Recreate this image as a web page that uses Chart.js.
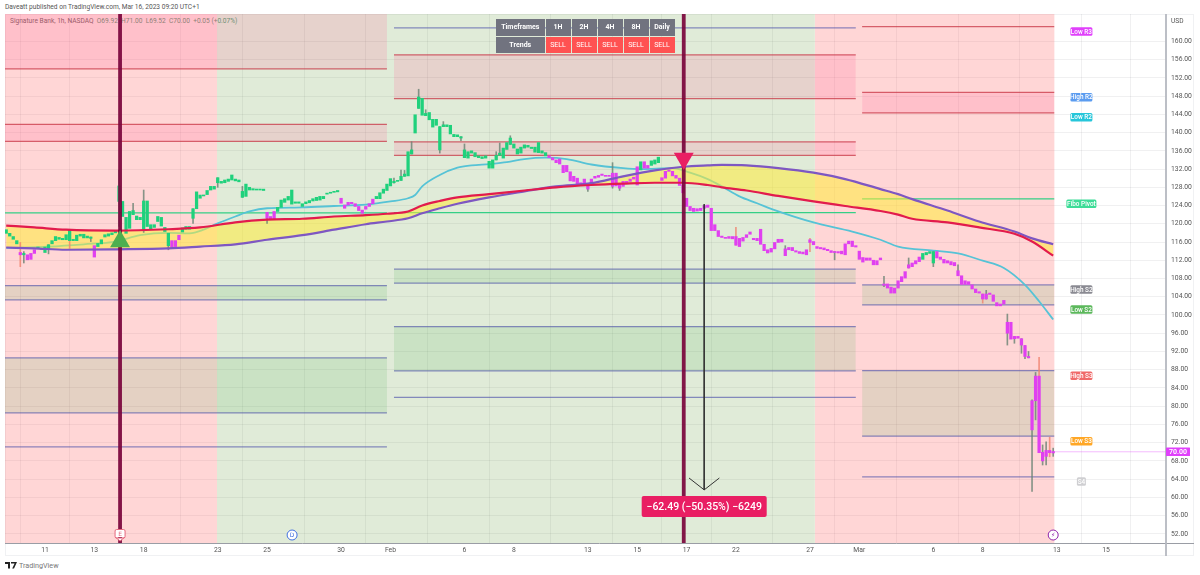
<!DOCTYPE html>
<html>
<head>
<meta charset="utf-8">
<title>Signature Bank, 1h</title>
<script src="https://cdn.jsdelivr.net/npm/chart.js@4/dist/chart.umd.min.js"></script>
<style>
  html, body { margin: 0; padding: 0; background: #fff; width: 1200px; height: 575px; overflow: hidden; font-family: Roboto, sans-serif; }
  #chart { position: absolute; left: 0; top: 0; z-index: 2; }
  #panel { position: absolute; left: 5px; top: 14px; width: 1189px; height: 542px; box-sizing: border-box; border: 1px solid #f0f1f3; z-index: 0; }
  #header { position: absolute; left: 5px; top: 3px; font-size: 6.6px; line-height: 8px; color: #555; }
  #legend { position: absolute; left: 10px; top: 17px; font-size: 6.6px; line-height: 8px; color: #5f6368; z-index: 1; white-space: pre; }
  #legend b { font-weight: 400; color: #4d9c7c; }
  #usd { position: absolute; left: 1171px; top: 17px; font-size: 6.6px; line-height: 8px; color: #555; z-index: 3; }
  #trends { position: absolute; left: 495px; top: 18px; border-collapse: separate; border-spacing: 1.3px; z-index: 3; font-size: 7px; color: #fff; table-layout: fixed; }
  #trends td { height: 16.5px; padding: 0; text-align: center; background: #71737f; width: 25px; font-weight: 700; }
  #trends td.name { width: 48.5px; }
  #trends td.sell { background: #ff5252; font-weight: 400; }
  #brand { position: absolute; left: 5px; top: 562px; font-size: 7.2px; line-height: 8px; color: #777; }
  #brand svg { vertical-align: -1px; margin-right: 2px; }
</style>
</head>
<body>
<div id="header">Daveatt published on TradingView.com, Mar 16, 2023 09:20 UTC+1</div>
<div id="panel"></div>
<div id="legend">Signature Bank, 1h, NASDAQ  <b>O69.92  H71.00  L69.52  C70.00  +0.05 (+0.07%)</b></div>
<canvas id="chart" width="1200" height="575"></canvas>
<div id="usd">USD</div>
<table id="trends">
  <tr><td class="name">Timeframes</td><td>1H</td><td>2H</td><td>4H</td><td>8H</td><td>Daily</td></tr>
  <tr><td class="name">Trends</td><td class="sell">SELL</td><td class="sell">SELL</td><td class="sell">SELL</td><td class="sell">SELL</td><td class="sell">SELL</td></tr>
</table>
<div id="brand"><svg width="12" height="7" viewBox="0 0 12 7"><path d="M0 0h5v6.5H3V2H0zM6 0h6L9 6.5H7.2L9.6 1.6H6z" fill="#222"/></svg>TradingView</div>

<script>
// axes (x = hourly bar number, 7 bars per trading day)
const xMin = -0.34, xMax = 329.0;
const yMin = 50.0, yMax = 166.0;
const tickBars = [11, 25, 39, 60, 74, 95, 109, 130, 144, 165, 179, 193, 207, 228, 242, 263, 277, 298, 312];
const tickLabels = ['11', '13', '18', '23', '25', '30', 'Feb', '6', '8', '13', '15', '17', '22', '27', 'Mar', '6', '8', '13', '15'];
const priceTicks = [160, 156, 152, 148, 144, 140, 136, 132, 128, 124, 120, 116, 112, 108, 104, 100, 96, 92, 88, 84, 80, 76, 72, 68, 64, 60, 56, 52];

// candle bodies, one value per bar
const bodyTop = [
  118.7, 117.9, 117.2, 116.3, 113.7, 113.5, 113.2, 113.5, 114.3, 114.9,
  114.6, 114.9, 115.4, 116.3, 117.2, 117.0, 116.8, 117.6, 118.7, 116.6,
  117.5, 117.7, 117.7, 117.3, 117.1, 115.2, 115.7, 116.5, 117.6, 117.8,
  118.0, 118.4, 128.3, 124.9, 121.4, 122.7, 122.9, 121.7, 121.4, 125.0,
  125.0, 119.8, 119.8, 121.6, 121.4, 119.2, 117.9, 116.3, 116.3, 117.5,
  119.1, 119.4, 119.4, 123.3, 127.0, 126.3, 126.3, 127.3, 128.2, 128.2,
  130.1, 129.3, 129.6, 129.8, 130.7, 129.8, 129.6, 127.1, 128.7, 128.0,
  127.7, 127.6, 127.6, 127.6, 122.5, 121.6, 122.7, 123.6, 125.2, 125.5,
  126.0, 127.4, 124.8, 124.8, 124.4, 124.8, 125.1, 125.5, 125.8, 126.0,
  126.0, 126.7, 126.9, 127.1, 127.3, 125.6, 124.1, 124.7, 124.7, 124.4,
  123.8, 123.0, 123.8, 124.4, 125.4, 126.0, 126.8, 127.6, 128.7, 129.9,
  129.3, 129.5, 130.4, 130.9, 135.8, 136.2, 143.9, 147.8, 147.5, 144.2,
  144.4, 142.9, 142.9, 141.3, 141.7, 141.7, 141.6, 139.6, 139.5, 139.1,
  136.2, 135.8, 136.0, 135.6, 134.9, 134.7, 134.9, 133.7, 134.0, 135.0,
  135.5, 136.6, 137.8, 138.8, 137.5, 136.4, 136.8, 137.3, 137.2, 136.8,
  136.8, 137.8, 136.0, 135.6, 134.9, 134.5, 134.0, 134.2, 132.8, 132.8,
  131.4, 130.4, 130.0, 129.0, 129.8, 128.5, 129.8, 130.4, 130.6, 130.9,
  130.6, 130.6, 131.1, 131.1, 128.7, 129.3, 129.3, 129.8, 130.2, 132.5,
  133.6, 133.6, 132.8, 133.8, 134.0, 134.6, 130.1, 131.5, 131.8, 131.5,
  130.6, 130.0, 128.5, 125.6, 123.8, 123.4, 123.3, 123.4, 124.0, 124.1,
  123.4, 119.8, 118.5, 117.3, 117.0, 117.2, 117.2, 117.2, 116.8, 117.0,
  117.6, 118.2, 116.8, 116.8, 118.8, 115.5, 114.3, 114.6, 115.9, 116.6,
  116.6, 114.5, 114.8, 114.8, 114.1, 113.9, 113.8, 114.3, 116.5, 116.1,
  115.0, 114.8, 114.7, 114.4, 114.1, 113.9, 113.9, 114.0, 115.6, 116.2,
  116.2, 115.2, 114.0, 112.6, 112.5, 112.5, 112.0, 111.9, 112.5, 106.8,
  106.8, 106.1, 105.9, 107.5, 108.4, 109.5, 111.0, 111.4, 111.9, 112.7,
  113.5, 113.7, 113.9, 113.9, 113.9, 112.7, 112.2, 111.9, 111.7, 111.5,
  109.7, 108.6, 107.5, 107.3, 106.6, 105.7, 105.1, 104.6, 104.6, 104.8,
  104.4, 102.7, 102.4, 103.2, 98.4, 98.4, 95.3, 95.3, 94.8, 93.3,
  90.9, 81.2, 86.6, 86.6, 69.9, 70.3, 70.3, 70.05
];
const bodyBottom = [
  117.9, 117.3, 116.6, 115.6, 113.2, 113.2, 112.1, 112.2, 113.5, 114.6,
  114.4, 113.7, 114.6, 115.6, 116.3, 116.6, 116.5, 116.5, 116.3, 116.3,
  116.3, 117.3, 116.9, 116.9, 116.8, 112.7, 115.0, 115.6, 117.1, 117.3,
  117.6, 118.0, 124.9, 121.6, 117.9, 119.0, 122.0, 120.9, 120.9, 118.7,
  119.4, 118.8, 119.2, 120.5, 119.5, 118.3, 115.2, 114.9, 115.0, 116.5,
  118.2, 118.8, 118.8, 121.2, 123.3, 125.6, 126.1, 126.4, 127.4, 127.6,
  129.0, 128.9, 129.0, 129.3, 129.6, 129.4, 129.2, 125.8, 126.0, 127.4,
  127.4, 127.4, 127.4, 127.3, 121.2, 120.9, 121.1, 122.7, 123.6, 124.7,
  125.2, 124.3, 124.5, 124.5, 123.8, 124.4, 124.6, 125.0, 125.1, 125.2,
  125.5, 126.5, 126.7, 126.9, 127.0, 124.5, 123.4, 124.1, 124.4, 123.8,
  122.9, 122.3, 123.2, 123.8, 124.4, 125.5, 125.5, 126.7, 127.3, 128.3,
  129.0, 129.3, 129.5, 130.4, 130.5, 135.3, 139.9, 145.3, 143.8, 143.7,
  142.8, 141.2, 141.6, 136.2, 141.3, 141.3, 139.7, 139.1, 139.1, 138.8,
  134.5, 134.4, 135.5, 134.7, 134.5, 134.3, 134.4, 132.2, 132.2, 134.0,
  135.0, 134.4, 136.3, 137.4, 136.6, 135.3, 135.5, 136.6, 136.8, 136.5,
  135.7, 135.6, 135.5, 134.9, 134.5, 134.0, 133.4, 133.1, 131.2, 131.4,
  129.4, 129.3, 128.7, 128.7, 128.9, 127.6, 128.9, 130.0, 130.2, 130.6,
  130.4, 130.4, 128.2, 128.3, 127.8, 128.2, 128.8, 129.3, 129.8, 128.5,
  131.8, 132.2, 132.2, 132.8, 133.1, 133.4, 129.5, 130.0, 131.5, 130.5,
  130.0, 128.4, 126.8, 123.8, 122.9, 122.7, 122.8, 122.9, 123.4, 123.6,
  118.5, 118.5, 117.2, 117.0, 116.8, 116.8, 116.7, 115.3, 115.0, 116.2,
  117.0, 117.7, 116.5, 116.3, 115.5, 114.1, 113.6, 113.8, 114.5, 115.9,
  116.0, 113.0, 114.3, 114.1, 113.8, 113.5, 113.4, 113.2, 115.9, 115.4,
  114.6, 114.5, 114.3, 114.1, 113.7, 113.7, 113.6, 113.4, 113.2, 115.6,
  115.0, 114.9, 112.2, 111.6, 112.0, 112.0, 111.0, 111.0, 112.1, 106.5,
  105.9, 104.8, 104.8, 105.9, 107.3, 108.1, 110.3, 110.6, 111.2, 111.7,
  112.2, 113.2, 113.5, 111.4, 112.5, 112.2, 111.4, 111.4, 111.0, 110.8,
  108.6, 106.7, 106.7, 106.7, 105.7, 104.9, 104.8, 103.5, 103.5, 104.5,
  103.0, 102.0, 102.0, 102.4, 96.0, 94.7, 94.8, 94.9, 93.4, 90.9,
  90.6, 74.8, 81.2, 69.8, 68.0, 69.0, 69.8, 69.75
];
// [bar, high, low] for the wicks that stick out
const wicks = [
  [4, 115.9, 110.6], [5, 113.9, 111.4], [12, 115.4, 113.4], [18, 118.7, 114.6], [24, 117.1, 116.1],
  [32, 131.8, 119.4], [36, 124.5, 122.0], [39, 127.4, 118.1], [46, 117.9, 114.3], [53, 123.3, 120.1],
  [60, 130.1, 128.0], [67, 128.2, 125.8], [74, 122.5, 120.1], [110, 130.0, 128.9], [112, 131.8, 129.5],
  [113, 131.7, 130.4], [115, 138.0, 135.3], [117, 149.5, 145.3], [119, 145.0, 143.7], [123, 141.3, 135.5],
  [124, 142.4, 141.3], [129, 139.1, 138.2], [130, 137.5, 134.5], [139, 135.8, 134.0], [140, 137.7, 135.0],
  [143, 139.3, 137.4], [165, 128.5, 127.1], [172, 133.4, 127.8], [174, 128.7, 127.3], [207, 119.2, 115.3],
  [221, 115.2, 113.0], [228, 116.8, 113.9], [235, 113.9, 112.1], [249, 108.5, 106.2], [256, 112.5, 110.3],
  [263, 113.9, 110.6], [270, 111.0, 108.6], [277, 104.6, 102.6], [278, 105.4, 103.5], [284, 100.2, 93.4],
  [286, 95.3, 93.8], [288, 94.8, 91.6], [289, 93.3, 90.4], [290, 92.0, 90.6], [291, 81.4, 61.3],
  [292, 87.4, 77.0], [293, 90.7, 69.8], [294, 71.5, 67.1], [295, 72.2, 67.1], [296, 73.2, 68.9], [297, 70.8, 69.0]
];
const paleWicks = [4, 18, 207, 228, 277, 293, 296];
// bars painted as sell, first and last
const sellRanges = [[4, 4], [6, 8], [25, 25], [47, 49], [74, 76], [95, 104], [154, 179], [181, 182], [186, 259], [264, 297]];

// moving averages
const ribbonBars = [0, 8, 17, 31, 46, 55, 65, 74, 84, 93, 102, 108, 114, 118, 123, 128, 137, 147, 156, 166, 175, 184, 192, 199, 203, 210, 219, 229, 238, 248, 253, 257, 267, 276, 286, 291, 297];
const fastAverage = [119.6, 119.2, 118.7, 118.5, 118.8, 119.2, 120.3, 120.9, 121.1, 121.6, 121.9, 122.2, 122.7, 124.0, 125.0, 125.8, 126.5, 127.3, 128.0, 128.5, 128.8, 129.0, 129.0, 128.5, 128.0, 127.3, 126.1, 124.9, 123.9, 122.8, 122.0, 121.1, 120.3, 119.2, 117.8, 116.1, 113.0];
const slowAverage = [114.8, 114.6, 114.3, 114.4, 114.6, 115.0, 115.5, 116.5, 117.5, 118.7, 119.9, 120.5, 121.2, 122.3, 123.4, 124.4, 125.8, 127.1, 128.2, 128.9, 130.4, 131.7, 132.5, 132.8, 132.9, 132.8, 132.2, 131.2, 129.8, 127.6, 126.5, 125.4, 122.9, 120.5, 118.3, 116.8, 115.5];
const cyanBars = [0, 12, 22, 31, 38, 46, 52, 56, 60, 65, 69, 74, 84, 93, 102, 109, 114, 116, 118, 123, 128, 132, 137, 142, 147, 153, 159, 166, 175, 180, 189, 194, 199, 203, 208, 213, 218, 229, 240, 248, 253, 263, 270, 277, 283, 289, 293, 297];
const cyanAverage = [114.7, 115.0, 115.5, 116.1, 117.5, 118.0, 117.9, 118.7, 120.1, 121.6, 122.7, 123.4, 123.6, 123.9, 124.2, 124.9, 125.6, 126.3, 128.2, 130.7, 132.3, 132.8, 133.1, 133.5, 134.2, 134.5, 134.2, 133.0, 132.2, 132.0, 132.2, 131.2, 129.8, 128.2, 126.0, 124.5, 123.0, 120.3, 118.3, 116.5, 115.0, 114.1, 113.5, 111.9, 110.3, 106.6, 103.0, 99.0];

// trend backgrounds: [first bar, last bar]
const sellBackgrounds = [[-0.34, 59.8], [229.4, 297.4]];
const buyBackgrounds = [[59.8, 229.4]];

// pivot periods: [first bar, last bar]
const periodJan = [-0.34, 108];
const periodFeb = [110, 241];
const periodMar = [242.8, 297.3];
// zones: [period, top price, bottom price]
const redZones = [
  [periodJan, 166, 153.97], [periodJan, 141.8, 138.07],
  [periodFeb, 157.04, 147.46], [periodFeb, 137.96, 135.0],
  [periodMar, 148.82, 144.32]
];
const greenZones = [
  [periodJan, 106.45, 103.3], [periodJan, 90.6, 78.53],
  [periodFeb, 110.04, 106.97], [periodFeb, 97.46, 87.74],
  [periodMar, 106.6, 102.2], [periodMar, 87.8, 73.42]
];
// single levels: [period, price]
const redLevels = [[periodJan, 153.97], [periodJan, 141.8], [periodJan, 138.07], [periodFeb, 157.04], [periodFeb, 147.46], [periodFeb, 137.96], [periodFeb, 135.0], [periodMar, 163.25], [periodMar, 148.82], [periodMar, 144.32]];
const blueLevels = [[periodJan, 106.45], [periodJan, 103.3], [periodJan, 90.6], [periodJan, 78.53], [periodJan, 71.07], [periodFeb, 162.96], [periodFeb, 110.04], [periodFeb, 106.97], [periodFeb, 97.46], [periodFeb, 87.74], [periodFeb, 81.93], [periodMar, 106.6], [periodMar, 102.2], [periodMar, 87.8], [periodMar, 73.42], [periodMar, 64.5]];
const pivotLevels = [[periodJan, 122.39], [periodFeb, 122.46], [periodMar, 125.46]];

// pivot name tags on the right
const tagBar = 305;
const tagNames = ['Low R3', 'High R2', 'Low R2', 'Fibo Pivot', 'High S2', 'Low S2', 'High S3', 'Low S3', 'S4'];
const tagPrices = [162.15, 147.76, 143.38, 124.4, 105.6, 101.2, 86.7, 72.3, 63.5];
const tagColors = ['#e040fb', '#5b9cf0', '#26c6da', '#3ddc97', '#8a8a92', '#5cb85c', '#f06a6a', '#ffa726', '#cfcfd2'];

// signals
const signalBars = [32.3, 192.2];
const buySignalPrice = 116.14;
const sellSignalPrice = 134.34;

// measured move
const moveBar = 198;
const moveFrom = 124.3;
const moveTo = 61.65;
const moveLabel = '\u221262.49 (\u221250.35%) \u22126249';
const moveLabelPrice = 58;

// events on the bottom of the chart
const eventBars = [32.3, 81.1, 297];
const eventPrice = 51.75;
const lastPrice = 70;

const sellColor = '#e040f0';
const buyColor = '#1fd17c';

function isSell(bar) {
  return sellRanges.some(function(r) { return bar >= r[0] && bar <= r[1]; });
}

function segment(from, to, price) {
  return [{x: from, y: price}, {x: to, y: price}];
}

function lineSet(data, color, width, order, extra) {
  return Object.assign({
    type: 'line', data: data, borderColor: color, borderWidth: width,
    pointRadius: 0, fill: false, order: order
  }, extra || {});
}

const datasets = [];

sellBackgrounds.forEach(function(b) {
  datasets.push(lineSet(segment(b[0], b[1], yMax), 'transparent', 0, 30, {fill: {value: yMin}, backgroundColor: 'rgba(255,82,82,0.24)'}));
});
buyBackgrounds.forEach(function(b) {
  datasets.push(lineSet(segment(b[0], b[1], yMax), 'transparent', 0, 30, {fill: {value: yMin}, backgroundColor: 'rgba(90,150,50,0.19)'}));
});
redZones.forEach(function(z) {
  datasets.push(lineSet(segment(z[0][0], z[0][1], z[1]), 'transparent', 0, 25, {fill: {value: z[2]}, backgroundColor: 'rgba(255,82,140,0.17)'}));
});
greenZones.forEach(function(z) {
  datasets.push(lineSet(segment(z[0][0], z[0][1], z[1]), 'transparent', 0, 25, {fill: {value: z[2]}, backgroundColor: 'rgba(76,175,80,0.15)'}));
});
redLevels.forEach(function(l) {
  datasets.push(lineSet(segment(l[0][0], l[0][1], l[1]), 'rgba(200,55,70,0.75)', 1.2, 20));
});
blueLevels.forEach(function(l) {
  datasets.push(lineSet(segment(l[0][0], l[0][1], l[1]), 'rgba(80,85,170,0.65)', 1.2, 20));
});
pivotLevels.forEach(function(l) {
  datasets.push(lineSet(segment(l[0][0], l[0][1], l[1]), '#35cf86', 1.2, 20));
});

// cyan sits under the ribbon, like in the original
datasets.push(lineSet(cyanBars.map(function(b, i) { return {x: b, y: cyanAverage[i]}; }), '#56c3d6', 1.8, 12, {cubicInterpolationMode: 'monotone'}));

const fastPts = ribbonBars.map(function(b, i) { return {x: b, y: fastAverage[i]}; });
const slowPts = ribbonBars.map(function(b, i) { return {x: b, y: slowAverage[i]}; });
// ribbon fill is its own pair so the candles can go over it
datasets.push(lineSet(fastPts, 'transparent', 0, 10, {fill: '+1', backgroundColor: 'rgba(255,235,59,0.55)', cubicInterpolationMode: 'monotone'}));
datasets.push(lineSet(slowPts, 'transparent', 0, 10, {cubicInterpolationMode: 'monotone'}));

datasets.push({
  type: 'bar', order: 8, grouped: false, barThickness: 1,
  data: wicks.map(function(w) { return {x: w[0], y: [w[2], w[1]]}; }),
  backgroundColor: wicks.map(function(w) {
    return paleWicks.indexOf(w[0]) >= 0 ? 'rgba(240,130,110,0.8)' : 'rgba(105,130,115,0.8)';
  })
});
datasets.push({
  type: 'bar', order: 7, grouped: false, barThickness: 2.6, minBarLength: 1,
  data: bodyTop.map(function(t, i) { return {x: i, y: [bodyBottom[i], t]}; }),
  backgroundColor: bodyTop.map(function(t, i) { return isSell(i) ? sellColor : buyColor; })
});

datasets.push(lineSet(fastPts, '#e21b4d', 2.2, 5, {cubicInterpolationMode: 'monotone'}));
datasets.push(lineSet(slowPts, '#7e57c2', 2.2, 5, {cubicInterpolationMode: 'monotone'}));

datasets.push(lineSet(segment(297, xMax, lastPrice), 'rgba(224,64,251,0.45)', 0.8, 5));

signalBars.forEach(function(b) {
  datasets.push(lineSet([{x: b, y: yMin}, {x: b, y: yMax}], 'rgba(122,4,60,0.92)', 3.8, 3));
});

// arrow shaft and head
datasets.push(lineSet([{x: moveBar, y: moveFrom}, {x: moveBar, y: moveTo}], '#333', 1, 3));
datasets.push(lineSet([{x: moveBar - 4.3, y: moveTo + 2.6}, {x: moveBar, y: moveTo}, {x: moveBar + 4.3, y: moveTo + 2.6}], '#333', 1, 3));

// signal triangles
datasets.push({
  type: 'line', order: 1, showLine: false,
  data: [{x: signalBars[0], y: buySignalPrice}],
  pointStyle: 'triangle', pointRadius: 11.5, pointBackgroundColor: '#4caf50', pointBorderWidth: 0
});
datasets.push({
  type: 'line', order: 1, showLine: false,
  data: [{x: signalBars[1], y: sellSignalPrice}],
  pointStyle: 'triangle', pointRotation: 180, pointRadius: 11.5, pointBackgroundColor: '#e91e63', pointBorderWidth: 0
});

function badge(ctx, cx, cy, w, h, r, color, text, font) {
  ctx.fillStyle = color;
  ctx.beginPath();
  ctx.roundRect(cx - w / 2, cy - h / 2, w, h, r);
  ctx.fill();
  ctx.fillStyle = '#fff';
  ctx.font = font;
  ctx.textAlign = 'center';
  ctx.textBaseline = 'middle';
  ctx.fillText(text, cx, cy + 0.5);
}

function ring(ctx, cx, cy, color, text) {
  ctx.beginPath();
  ctx.arc(cx, cy, 5, 0, Math.PI * 2);
  ctx.fillStyle = '#fff';
  ctx.fill();
  ctx.lineWidth = 1;
  ctx.strokeStyle = color;
  ctx.stroke();
  ctx.fillStyle = color;
  ctx.font = '6px "DejaVu Sans"';
  ctx.textAlign = 'center';
  ctx.textBaseline = 'middle';
  ctx.fillText(text, cx, cy + 0.5);
}

const overlays = {
  id: 'overlays',
  afterDatasetsDraw: function(chart) {
    const ctx = chart.ctx, xs = chart.scales.x, ys = chart.scales.y;
    ctx.save();

    tagNames.forEach(function(name, i) {
      const w = name === 'Fibo Pivot' ? 30 : (name === 'S4' ? 9 : 22);
      badge(ctx, xs.getPixelForValue(tagBar), ys.getPixelForValue(tagPrices[i]), w, 8.5, 1.5, tagColors[i], name, '500 6.4px Roboto');
    });

    badge(ctx, xs.getPixelForValue(moveBar), ys.getPixelForValue(moveLabelPrice), 125, 21, 2, '#e91e63', moveLabel, '500 10.5px Roboto');

    // earnings shield
    const ex = xs.getPixelForValue(eventBars[0]), ey = ys.getPixelForValue(eventPrice);
    ctx.beginPath();
    ctx.roundRect(ex - 5, ey - 5.5, 10, 8.5, 1.5);
    ctx.moveTo(ex - 5, ey + 2);
    ctx.lineTo(ex, ey + 6);
    ctx.lineTo(ex + 5, ey + 2);
    ctx.fillStyle = '#fff';
    ctx.fill();
    ctx.strokeStyle = '#e5687e';
    ctx.lineWidth = 1;
    ctx.stroke();
    ctx.fillStyle = '#e5687e';
    ctx.font = '6px "DejaVu Sans"';
    ctx.textAlign = 'center';
    ctx.textBaseline = 'middle';
    ctx.fillText('E', ex, ey - 0.5);

    ring(ctx, xs.getPixelForValue(eventBars[1]), ys.getPixelForValue(eventPrice), '#3f6fe0', 'D');
    ring(ctx, xs.getPixelForValue(eventBars[2]), ys.getPixelForValue(eventPrice), '#8e24aa', '\u26A1');
    ctx.restore();
  },
  afterDraw: function(chart) {
    const ctx = chart.ctx, area = chart.chartArea, ys = chart.scales.y;
    ctx.save();
    // axis rules run past the chart area into the label strip
    ctx.strokeStyle = '#9a9da5';
    ctx.lineWidth = 1;
    ctx.beginPath();
    ctx.moveTo(area.left, area.bottom + 0.5);
    ctx.lineTo(1194, area.bottom + 0.5);
    ctx.stroke();
    ctx.strokeStyle = '#b5b8c0';
    ctx.lineWidth = 1.8;
    ctx.beginPath();
    ctx.moveTo(area.right, area.top);
    ctx.lineTo(area.right, 556);
    ctx.stroke();
    badge(ctx, area.right + 12, ys.getPixelForValue(lastPrice), 24, 8.5, 0.5, '#e040fb', lastPrice.toFixed(2), '600 7px Roboto');
    ctx.restore();
  }
};

new Chart(document.getElementById('chart').getContext('2d'), {
  type: 'line',
  data: {datasets: datasets},
  plugins: [overlays],
  options: {
    responsive: false,
    animation: false,
    devicePixelRatio: 1,
    // autoPadding would push the plot in to fit the big triangles
    layout: {autoPadding: false, padding: {left: 5, right: 6, top: 14, bottom: 19}},
    plugins: {legend: {display: false}, tooltip: {enabled: false}, title: {display: false}},
    scales: {
      x: {
        type: 'linear', min: xMin, max: xMax, offset: false,
        afterBuildTicks: function(axis) { axis.ticks = tickBars.map(function(b) { return {value: b}; }); },
        afterFit: function(axis) { axis.height = 13; axis.paddingLeft = 0; axis.paddingRight = 0; },
        grid: {color: 'rgba(42,46,57,0.07)', drawTicks: false},
        border: {display: false},
        ticks: {
          autoSkip: false, maxRotation: 0, padding: 3, color: '#555', font: {family: 'Roboto', size: 6.8},
          callback: function(v) { return tickLabels[tickBars.indexOf(v)]; }
        }
      },
      y: {
        type: 'linear', position: 'right', min: yMin, max: yMax,
        afterBuildTicks: function(axis) { axis.ticks = priceTicks.map(function(p) { return {value: p}; }); },
        afterFit: function(axis) { axis.width = 28; axis.paddingTop = 0; axis.paddingBottom = 0; },
        grid: {color: 'rgba(42,46,57,0.07)', drawTicks: false},
        border: {display: false},
        ticks: {
          autoSkip: false, padding: 5, color: '#555', font: {family: 'Roboto', size: 6.8},
          callback: function(v) { return v.toFixed(2); }
        }
      }
    }
  }
});
</script>
</body>
</html>
